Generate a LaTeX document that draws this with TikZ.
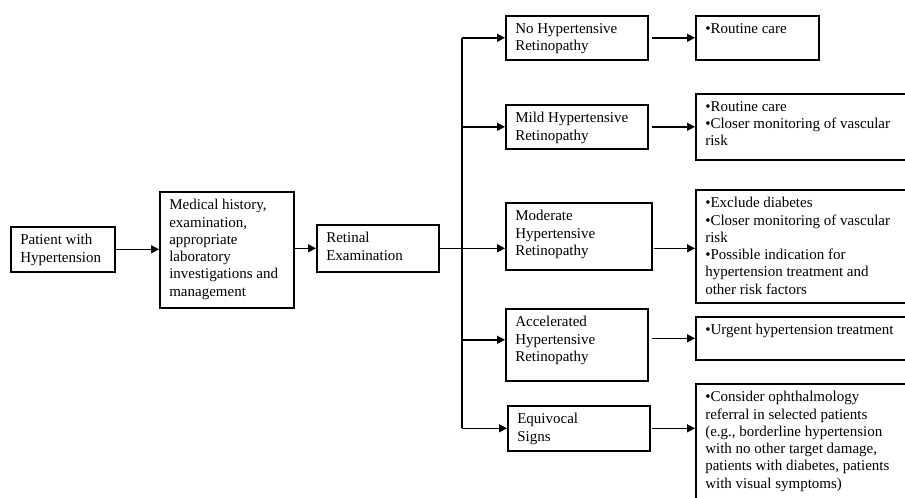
\documentclass[tikz,border=0pt]{standalone}
\usepackage{fontspec}
\setmainfont{Liberation Serif}
\usetikzlibrary{arrows.meta}
% box of given size (in pt), text set from the top left corner
\newcommand{\cadre}[3]{\parbox[c][\dimexpr#2pt-15pt\relax][t]{\dimexpr#1pt-19pt\relax}{\raggedright #3}}

\begin{document}
\begin{tikzpicture}[x=1pt, y=-1pt]
\tikzset{boite/.style={draw, line width=1.6pt, inner xsep=9.5pt, inner ysep=7.5pt, anchor=north west,
    font=\fontsize{15pt}{17.3pt}\selectfont}}
\tikzset{fleche/.style={line width=1.4pt, -{Triangle[length=8pt, width=8pt]}}}
\clip (0, 0) rectangle (905, 498);
\useasboundingbox (0, 0) rectangle (905, 498);
\node[boite] (P) at (10, 226) {\cadre{104}{45}{Patient with\\Hypertension}};
\node[boite] (M) at (159, 191) {\cadre{134}{116}{Medical history,\\examination,\\appropriate\\laboratory\\investigations and\\management}};
\node[boite] (R) at (316, 224) {\cadre{122}{47}{Retinal\\Examination}};
\node[boite] (C1) at (505, 15) {\cadre{142}{44}{No Hypertensive\\Retinopathy}};
\node[boite] (C2) at (505, 104) {\cadre{142}{44}{Mild Hypertensive\\Retinopathy}};
\node[boite] (C3) at (505, 202) {\cadre{146}{67}{Moderate\\Hypertensive\\Retinopathy}};
\node[boite] (C4) at (505, 308) {\cadre{142}{72}{Accelerated\\Hypertensive\\Retinopathy}};
\node[boite] (C5) at (507, 405) {\cadre{142}{45}{Equivocal\\Signs}};
\node[boite] (A1) at (695, 15) {\cadre{123}{44}{•Routine care}};
\node[boite] (A2) at (695, 93) {\cadre{215}{66}{•Routine care\\•Closer monitoring of vascular\\risk}};
\node[boite] (A3) at (695, 189) {\cadre{215}{113}{•Exclude diabetes\\•Closer monitoring of vascular\\risk\\•Possible indication for\\hypertension treatment and\\other risk factors}};
\node[boite] (A4) at (695, 316) {\cadre{215}{43}{•Urgent hypertension treatment}};
\node[boite] (A5) at (695, 383) {\cadre{215}{140}{•Consider ophthalmology\\referral in selected patients\\(e.g., borderline hypertension\\with no other target damage,\\patients with diabetes, patients\\with visual symptoms)}};
\coordinate (S) at (462, 247);
\draw[fleche] (P) -- (M.west |- P);
\draw[fleche] (M.east |- R) -- (R);
\draw[line width=1.4pt] (R.east) -- (S |- R.east);
\draw[line width=1.4pt] (S |- C1.west) -- (S |- C5.west);
\draw[fleche] (S |- C1.west) -- (C1.west);
\draw[fleche] (S |- C2.west) -- (C2.west);
\draw[fleche] (S |- R.east) -- (C3.west |- R.east);
\draw[fleche] ([yshift=5pt]S |- C4.west) -- ([yshift=5pt]C4.west);
\draw[fleche] (S |- C5.west) -- (C5.west);
\draw[fleche, shorten <=3pt] (C1.east |- A1.west) -- (A1.west);
\draw[fleche, shorten <=3pt] (C2.east |- A2.west) -- (A2.west);
\draw[fleche, shorten <=1pt] (C3.east |- R.east) -- (A3.west |- R.east);
\draw[fleche, shorten <=3pt] (C4.east |- A4.west) -- (A4.west);
\draw[fleche, shorten <=1pt] (C5.east) -- (C5.east -| A5.west);
\end{tikzpicture}
\end{document}
